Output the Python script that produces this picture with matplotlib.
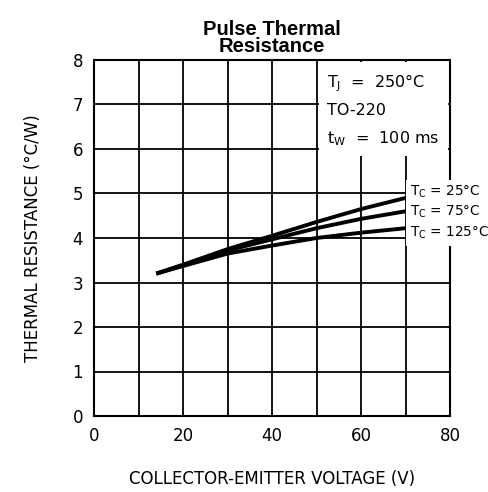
import numpy as np
import matplotlib.pyplot as plt

# curves (V, degC/W)
vce = [14, 20, 30, 40, 50, 60, 70]
tc25 = [3.2, 3.4, 3.75, 4.05, 4.36, 4.65, 4.9]
tc75 = [3.2, 3.39, 3.72, 3.97, 4.22, 4.43, 4.6]
tc125 = [3.2, 3.37, 3.65, 3.83, 4.0, 4.12, 4.22]
labels = ['$\\mathregular{T_C}$ = 25°C', '$\\mathregular{T_C}$ = 75°C', '$\\mathregular{T_C}$ = 125°C']

plt.rcParams['font.family'] = ['DejaVu Sans']
fig = plt.figure(figsize=(4.88, 4.92), dpi=100)
ax = fig.add_axes([94/488, 76/492, 356/488, 356/492])

ax.set_xlim(0, 80)
ax.set_ylim(0, 8)
ax.set_xticks(np.arange(0, 81, 10))
ax.set_xticklabels(['0', '', '20', '', '40', '', '60', '', '80'])
ax.set_yticks(np.arange(0, 9, 1))
ax.grid(True, color='black', linewidth=1.3)
for s in ax.spines.values():
    s.set_linewidth(1.5)
ax.tick_params(length=0, labelsize=12, pad=8)

for ys in (tc25, tc75, tc125):
    ax.plot(vce, ys, color='black', linewidth=2.8, solid_capstyle='butt')

# condition box (kept under the spines)
ax.text(0.655, 0.965,
        '$\\mathregular{T_J}$  =  250°C\nTO-220\n$\\mathregular{t_W}$  =  100 ms',
        transform=ax.transAxes, ha='left', va='top', fontsize=11.5,
        linespacing=1.78, zorder=2.2,
        bbox=dict(facecolor='white', edgecolor='none', pad=6))

# curve labels on right edge, spread apart
for y, lab in zip((5.03, 4.58, 4.11), labels):
    ax.text(71.0, y, lab, ha='left', va='center', fontsize=9.8,
            clip_on=False, zorder=3,
            bbox=dict(facecolor='white', edgecolor='none', pad=3))

ax.set_title('Pulse Thermal\nResistance', fontsize=14.5, fontweight='bold',
             family='Liberation Sans', pad=6, linespacing=0.85)
ax.set_xlabel('COLLECTOR-EMITTER VOLTAGE (V)', fontsize=12, labelpad=18)
ax.set_ylabel('THERMAL RESISTANCE (°C/W)', fontsize=12, labelpad=22)

plt.savefig('out.png', dpi=100)
